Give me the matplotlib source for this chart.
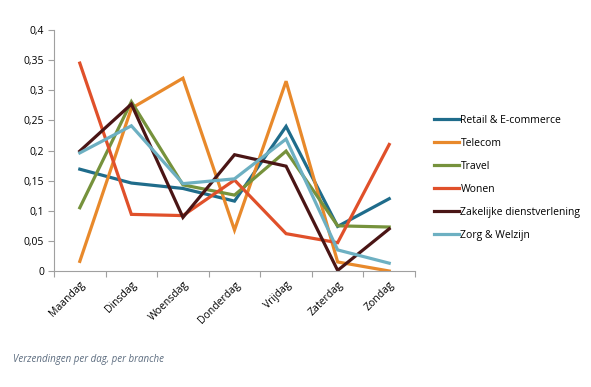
import matplotlib
matplotlib.use("Agg")
import matplotlib.pyplot as plt
from matplotlib.ticker import FuncFormatter

days = ["Maandag", "Dinsdag", "Woensdag", "Donderdag", "Vrijdag", "Zaterdag", "Zondag"]
retail = [0.169, 0.146, 0.137, 0.116, 0.240, 0.074, 0.120]
telecom = [0.016, 0.270, 0.320, 0.068, 0.315, 0.015, 0.000]
travel = [0.105, 0.281, 0.143, 0.126, 0.199, 0.075, 0.073]
wonen = [0.345, 0.094, 0.092, 0.151, 0.062, 0.047, 0.210]
zakelijk = [0.199, 0.277, 0.089, 0.193, 0.174, 0.001, 0.070]
zorg = [0.196, 0.241, 0.145, 0.153, 0.219, 0.035, 0.013]

series = [
    ("Retail & E-commerce", retail, "#1F6C8B"),
    ("Telecom", telecom, "#E8892B"),
    ("Travel", travel, "#76923C"),
    ("Wonen", wonen, "#E0502A"),
    ("Zakelijke dienstverlening", zakelijk, "#4A1515"),
    ("Zorg & Welzijn", zorg, "#6DB0C2"),
]

plt.rcParams['font.family'] = ['Open Sans', 'DejaVu Sans']
fig = plt.figure(figsize=(5.91, 3.87), dpi=100)
ax = fig.add_axes([0.0914, 0.2997, 0.6108, 0.6228])
x = list(range(len(days)))
for name, vals, col in series:
    ax.plot(x, vals, color=col, lw=2.3, label=name, solid_joinstyle='miter')

ax.set_xlim(-0.5, len(days) - 0.5)
ax.set_ylim(0, 0.4)
ax.set_yticks([0, 0.05, 0.1, 0.15, 0.2, 0.25, 0.3, 0.35, 0.4])
ax.yaxis.set_major_formatter(FuncFormatter(lambda v, p: ('%g' % round(v, 2)).replace('.', ',')))
ax.set_xticks(x)
ax.set_xticklabels(days, rotation=45, ha='right', rotation_mode='anchor', fontsize=7.5)
ax.set_xticks([i - 0.5 for i in range(len(days) + 1)], minor=True)
ax.tick_params(axis='x', which='major', length=0, pad=6)
ax.tick_params(axis='x', which='minor', length=4, color='#A0A0A0', width=0.8)
ax.tick_params(axis='y', length=4, color='#A0A0A0', width=0.8, labelsize=7.5, pad=3)
for s in ['top', 'right']:
    ax.spines[s].set_visible(False)
for s in ['left', 'bottom']:
    ax.spines[s].set_color('#A0A0A0')
    ax.spines[s].set_linewidth(0.8)

leg = fig.legend(loc='center left', bbox_to_anchor=(0.728, 0.54), frameon=False,
                 fontsize=7.5, handlelength=2.4, handletextpad=0.1, labelspacing=1.15,
                 borderaxespad=0)

fig.text(0.022, 0.064, "Verzendingen per dag, per branche", fontsize=7, style='italic',
         color='#5B6B7E')

fig.savefig("out.png", dpi=100)
